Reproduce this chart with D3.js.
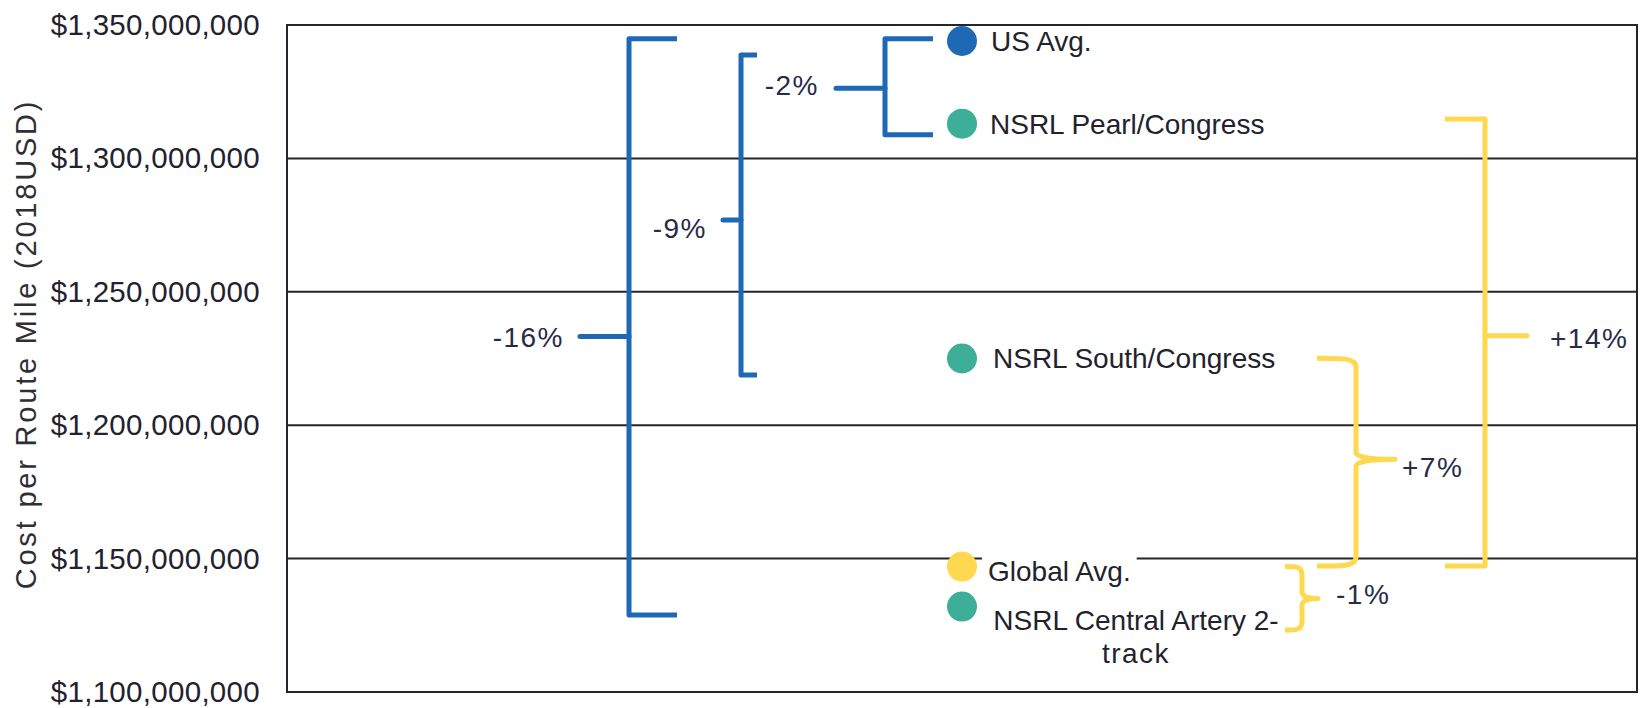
<!DOCTYPE html>
<html>
<head>
<meta charset="utf-8">
<script src="https://cdn.jsdelivr.net/npm/d3@7"></script>
<style>
  html, body { margin: 0; padding: 0; background: #fff; }
  svg { display: block; font-family: "Liberation Sans", Arial, sans-serif; }
</style>
</head>
<body>
<div id="chart"></div>
<script>
// points
const categories = ["US Avg.", "NSRL Pearl/Congress", "NSRL South/Congress", "Global Avg.", "NSRL Central Artery 2-track"];
const costs = [1344000000, 1313000000, 1225000000, 1147000000, 1132000000];
const groups = ["us", "nsrl", "nsrl", "global", "nsrl"];

// y axis
const yTicks = [1100000000, 1150000000, 1200000000, 1250000000, 1300000000, 1350000000];
const yTitle = "Cost per Route Mile (2018USD)";

// brackets (values in dollars)
const bracketLabels = ["-16%", "-9%", "-2%", "+14%", "+7%", "-1%"];
const bracketFrom = [1344800000, 1338800000, 1344800000, 1314800000, 1225100000, 1147000000];
const bracketTo = [1128900000, 1218800000, 1308900000, 1147200000, 1147200000, 1123200000];
const bracketMid = [1233200000, 1276900000, 1326300000, 1233500000, 1187200000, 1135000000];
const bracketGroups = ["us", "us", "us", "global", "global", "global"];

const COLORS = { us: "#1e69b3", nsrl: "#3dae98", global: "#fed84e" };
const TEXT = "#22222c";
const PCT_TEXT = "#272b48";
const GRID = "#25252f";

const W = 1643, H = 708;
const M = { top: 25, right: 6, bottom: 16, left: 287 };
const R = 15;

// offsets from the point column (x of bracket spine, arm end, tick end, label)
const BRACKET_LAYOUT = [
  { shape: "left", x: -333, arm: -285, tick: -382, label: -398, anchor: "end", dy: 1 },
  { shape: "left", x: -221, arm: -205, tick: -239, label: -255, anchor: "end", dy: 8 },
  { shape: "left", x: -77, arm: -29, tick: -126, label: -143, anchor: "end", dy: -3 },
  { shape: "right", x: 523, arm: 483, tick: 565, label: 588, anchor: "start", dy: 2 },
  { shape: "brace", x: 394, arm: 355, tick: 433, label: 440, anchor: "start", dy: 8 },
  { shape: "brace", x: 340, arm: 323, tick: 356, label: 374, anchor: "start", dy: -4 },
];

const svg = d3.select("#chart").append("svg")
  .attr("width", W).attr("height", H)
  .attr("viewBox", [0, 0, W, H]);

const y = d3.scaleLinear()
  .domain([1100000000, 1350000000])
  .range([H - M.bottom, M.top]);

const x = d3.scalePoint()
  .domain(["cost"])
  .range([M.left, W - M.right])
  .padding(0.5);

const cx = x("cost");

// gridlines + frame
svg.append("g")
  .selectAll("line")
  .data(yTicks)
  .join("line")
  .attr("x1", M.left).attr("x2", W - M.right)
  .attr("y1", d => y(d)).attr("y2", d => y(d))
  .attr("stroke", GRID).attr("stroke-width", 2);

svg.append("rect")
  .attr("x", M.left).attr("y", M.top)
  .attr("width", W - M.right - M.left)
  .attr("height", H - M.bottom - M.top)
  .attr("fill", "none").attr("stroke", GRID).attr("stroke-width", 2);

const yAxis = svg.append("g")
  .attr("transform", `translate(${M.left},0)`)
  .call(d3.axisLeft(y).tickValues(yTicks).tickFormat(d3.format("$,.0f")).tickSize(0).tickPadding(27));
yAxis.select(".domain").remove();
yAxis.selectAll("text")
  .attr("font-family", "'Liberation Sans', Arial, sans-serif")
  .attr("font-size", 29.5)
  .attr("letter-spacing", 0.3)
  .attr("fill", TEXT);

svg.append("text")
  .attr("transform", `translate(36,344) rotate(-90)`)
  .attr("text-anchor", "middle")
  .attr("font-size", 29)
  .attr("letter-spacing", 2.8)
  .attr("fill", "#2f2f36")
  .text(yTitle);

// brackets
const gBr = svg.append("g").attr("fill", "none").attr("stroke-width", 5);
bracketLabels.forEach((lab, i) => {
  const L = BRACKET_LAYOUT[i];
  const col = COLORS[bracketGroups[i]];
  const y0 = y(bracketFrom[i]), y1 = y(bracketTo[i]), ym = y(bracketMid[i]);
  const sx = cx + L.x, ax = cx + L.arm, tx = cx + L.tick;
  let d;
  if (L.shape === "brace") {
    const k = Math.abs(sx - ax);
    d = `M${ax},${y0} C${ax + k * 0.7},${y0} ${sx},${y0} ${sx},${y0 + 9}` +
        ` V${ym - 7} Q${sx},${ym} ${tx},${ym} Q${sx},${ym} ${sx},${ym + 7}` +
        ` V${y1 - 9} C${sx},${y1} ${ax + k * 0.7},${y1} ${ax},${y1}`;
    gBr.append("path").attr("d", d).attr("stroke", col)
      .attr("stroke-linejoin", "round").attr("stroke-linecap", "butt");
  } else {
    d = `M${ax},${y0} H${sx} V${y1} H${ax}`;
    gBr.append("path").attr("d", d).attr("stroke", col)
      .attr("stroke-linejoin", "round");
    gBr.append("line")
      .attr("x1", sx).attr("x2", tx).attr("y1", ym).attr("y2", ym)
      .attr("stroke", col).attr("stroke-linecap", "round");
  }
  svg.append("text")
    .attr("x", cx + L.label)
    .attr("y", ym + L.dy)
    .attr("dy", "0.35em")
    .attr("text-anchor", L.anchor)
    .attr("font-size", 28)
    .attr("letter-spacing", 1.5)
    .attr("fill", PCT_TEXT)
    .text(lab);
});

// point labels
const LABEL_LAYOUT = [
  { dx: 29, dy: 0 },
  { dx: 28, dy: 0 },
  { dx: 31, dy: 0 },
  { dx: 26, dy: 5, bg: true },
  { dx: 174, dy: 14, wrap: true },
];
const gLab = svg.append("g");
categories.forEach((name, i) => {
  const L = LABEL_LAYOUT[i];
  const py = y(costs[i]);
  if (L.wrap) {
    const t = gLab.append("text")
      .attr("text-anchor", "middle")
      .attr("font-size", 28)
      .attr("fill", TEXT);
    ["NSRL Central Artery 2-", "track"].forEach((line, j) => {
      t.append("tspan")
        .attr("x", cx + L.dx)
        .attr("y", py + L.dy + j * 33)
        .attr("dy", "0.35em")
        .attr("letter-spacing", j === 1 ? 1.5 : 0)
        .text(line);
    });
    return;
  }
  const t = gLab.append("text")
    .attr("x", cx + L.dx)
    .attr("y", py + L.dy)
    .attr("dy", "0.35em")
    .attr("font-size", 28)
    .attr("fill", TEXT)
    .text(name);
  if (L.bg) {
    const b = t.node().getBBox();
    gLab.insert("rect", () => t.node())
      .attr("x", b.x - 6).attr("y", b.y).attr("width", b.width + 12).attr("height", b.height)
      .attr("fill", "#fff");
  }
});

// points
const gPts = svg.append("g");
categories.forEach((name, i) => {
  gPts.append("circle")
    .attr("cx", cx).attr("cy", y(costs[i])).attr("r", R)
    .attr("fill", COLORS[groups[i]]);
});
</script>
</body>
</html>
